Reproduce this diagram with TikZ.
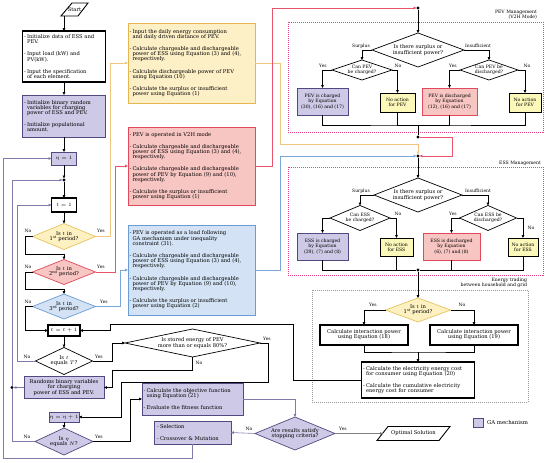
\documentclass[tikz,border=0pt]{standalone}
\usepackage{fontspec}
\setmainfont{DejaVu Serif}
\usetikzlibrary{arrows.meta,shapes.geometric,calc}
\definecolor{gaF}{HTML}{CDC9E6}
\definecolor{gaD}{HTML}{4F4B80}
\definecolor{lc}{HTML}{7F7BAA}
\definecolor{yF}{HTML}{FDEFC6}
\definecolor{yD}{HTML}{E8B650}
\definecolor{yL}{HTML}{F0C67E}
\definecolor{rF}{HTML}{F8C6C2}
\definecolor{rD}{HTML}{E04A5C}
\definecolor{rL}{HTML}{E8546C}
\definecolor{bF}{HTML}{D3E3F5}
\definecolor{bD}{HTML}{6C9CD4}
\definecolor{bL}{HTML}{7AA6DA}
\definecolor{naF}{HTML}{FBF8BA}
\definecolor{pk}{HTML}{E8408A}
\definecolor{dyF}{HTML}{FDF1C2}
\definecolor{dyD}{HTML}{E6C45C}
\newcommand{\fMain}{\fontsize{5.2pt}{5.2pt}\selectfont}
\newcommand{\fSmall}{\fontsize{4.6pt}{5.2pt}\selectfont}
\newcommand{\fLab}{\fontsize{4.5pt}{5pt}\selectfont}
\newcommand{\bdash}{\makebox[3pt][l]{-}}
\newcommand{\bind}{\hspace*{3pt}}
\tikzset{
 every node/.style={inner sep=0pt, outer sep=0pt},
 wbox/.style={draw=black, line width=1.1pt, fill=white, align=center, font=\fMain},
 gabox/.style={draw=gaD, line width=0.9pt, fill=gaF, align=center, font=\fMain},
 ybox/.style={draw=yD, line width=0.9pt, fill=yF, font=\fMain},
 rbox/.style={draw=rD, line width=0.9pt, fill=rF, font=\fMain},
 bbox/.style={draw=bD, line width=0.9pt, fill=bF, font=\fMain},
 nabox/.style={draw=black, line width=0.8pt, fill=naF, align=center, font=\fSmall},
 bul/.style={align=left, inner xsep=1.5pt},
 dia/.style={diamond, draw=black, line width=0.7pt, fill=white, inner sep=0pt},
 dt/.style={align=center, font=\fMain},
 dts/.style={align=center, font=\fSmall},
 lab/.style={font=\fLab},
 dot/.style={circle, fill=black, minimum size=3.2pt, inner sep=0pt},
 arr/.style={-{Triangle[length=2.8pt,width=2.6pt]}, line width=0.6pt},
 blk/.style={draw=pk, dash pattern=on 1pt off 1pt, line width=0.8pt},
 tblk/.style={draw=gray!80, dash pattern=on 1pt off 1pt, line width=0.8pt},
}
\begin{document}
\begin{tikzpicture}[x=1pt,y=-1pt]
\useasboundingbox (0,0) rectangle (550,463);

% ---------- blocks ----------
\node[blk, minimum width=255pt, minimum height=110pt] (pevblk) at (415.5,77) {};
\node[blk, minimum width=255pt, minimum height=108pt] (essblk) at (415.5,221) {};
\node[tblk, minimum width=216pt, minimum height=112pt] (trblk) at (420,346) {};
\node[font=\fSmall, align=right, anchor=south east] (pevlbl) at (537,19) {PEV Management\\(V2H Mode)};
\node[font=\fSmall, anchor=south east] (esslbl) at (541,166) {ESS Management};
\node[font=\fSmall, align=right, anchor=south east] (trlbl) at (527,288) {Energy trading\\between household and grid};

% ---------- left column ----------
\node[font=\fMain, minimum width=16.5pt, minimum height=13pt] (start) at (74.5,9.5) {Start};
\draw[line width=0.9pt] ($(start)+(-2.5,-6.5)$) -- ($(start)+(13.5,-6.5)$) -- ($(start)+(3.5,6.5)$) -- ($(start)+(-13.5,6.5)$) -- cycle;

\node[wbox, bul, text width=80pt, minimum height=51pt] (box1) at (64,56.5)
 {\bdash Initialize data of ESS and\\\bind PEV.\\[7pt]\bdash Input load (kW) and\\\bind PV(kW).\\[7pt]\bdash Input the specification\\\bind of each element.};
\node[gabox, bul, text width=80pt, minimum height=42pt] (box2) at (64,116)
 {\bdash Initialize binary random\\\bind variables for charging\\\bind power of ESS and PEV.\\[7pt]\bdash Initialize populational\\\bind amount.};
\node[gabox, minimum width=25pt, minimum height=13pt] (eta1) at (64,158.5) {$\eta = 1$};
\node[dot] (j1) at (64,180) {};
\node[wbox, minimum width=25pt, minimum height=14pt] (t1) at (64,205) {$t = 1$};
\node[dia, fill=dyF, draw=dyD, minimum width=63pt, minimum height=26pt] (d1) at (64,236.5) {};
\node[dt] (d1t) at (d1) {Is $t$ in\\1\textsuperscript{st} period?};
\node[dia, fill=rF, draw=rD, minimum width=63pt, minimum height=25pt] (d2) at (64,272) {};
\node[dt] (d2t) at (d2) {Is $t$ in\\2\textsuperscript{nd} period?};
\node[dia, fill=bF, draw=bD, minimum width=63pt, minimum height=25pt] (d3) at (64,306.5) {};
\node[dt] (d3t) at (d3) {Is $t$ in\\3\textsuperscript{rd} period?};
\node[wbox, minimum width=32pt, minimum height=11pt] (tp1) at (64,330.5) {$t = t + 1$};
\node[dia, minimum width=57pt, minimum height=27pt] (dT) at (64,361) {};
\node[dt] (dTt) at (dT) {Is $t$\\equals $T$?};
\node[gabox, minimum width=80pt, minimum height=22pt] (rnd) at (64,387.5) {Randoms binary variables\\for charging\\power of ESS and PEV.};
\node[dot] (j2) at (12,387.5) {};
\node[gabox, minimum width=30pt, minimum height=10pt] (etap1) at (64,417) {$\eta = \eta + 1$};
\node[dia, fill=gaF, draw=gaD, minimum width=58pt, minimum height=27pt] (dN) at (64,441.5) {};
\node[dt] (dNt) at (dN) {Is $\eta$\\equals $N$?};

% ---------- middle column ----------
\node[ybox, bul, text width=124pt, minimum height=80pt] (Y) at (191.5,63)
 {\bdash Input the daily energy consumption\\\bind and daily driven distance of PEV.\\[7pt]
  \bdash Calculate chargeable and dischargeable\\\bind power of ESS using Equation (3) and (4),\\\bind respectively.\\[7pt]
  \bdash Calculate dischargeable power of PEV\\\bind using Equation (10)\\[7pt]
  \bdash Calculate the surplus or insufficient\\\bind power using Equation (1)};
\node[rbox, bul, text width=124pt, minimum height=78pt] (R) at (191.5,166)
 {\bdash PEV is operated in V2H mode\\[7pt]
  \bdash Calculate chargeable and dischargeable\\\bind power of ESS using Equation (3) and (4),\\\bind respectively.\\[7pt]
  \bdash Calculate chargeable and dischargeable\\\bind power of PEV by Equation (9) and (10),\\\bind respectively.\\[7pt]
  \bdash Calculate the surplus or insufficient\\\bind power using Equation (1)};
\node[bbox, bul, text width=124pt, minimum height=90pt] (B) at (191.5,270)
 {\bdash PEV is operated as a load following\\\bind GA mechanism under inequality\\\bind constraint (31).\\[7pt]
  \bdash Calculate chargeable and dischargeable\\\bind power of ESS using Equation (3) and (4),\\\bind respectively.\\[7pt]
  \bdash Calculate chargeable and dischargeable\\\bind power of PEV by Equation (9) and (10),\\\bind respectively.\\[7pt]
  \bdash Calculate the surplus or insufficient\\\bind power using Equation (2)};
\node[dia, minimum width=135pt, minimum height=28pt] (dS) at (192.5,343) {};
\node[dt] (dSt) at (dS) {Is stored energy of PEV\\more than or equals 80\%?};
\node[gabox, bul, text width=98pt, minimum height=32pt] (O) at (192.5,399)
 {\bdash Calculate the objective function\\\bind using Equation (21)\\[7pt]\bdash Evaluate the fitness function};
\node[gabox, bul, text width=71pt, inner xsep=3pt, minimum height=23pt] (S) at (192.5,432.5)
 {\bdash Selection\\[7pt]\bdash Crossover \& Mutation};
\node[dia, fill=gaF, draw=gaD, minimum width=80pt, minimum height=33pt] (dC) at (295,433.5) {};
\node[dt] (dCt) at (dC) {Are results satisfy\\stopping criteria?};
\node[font=\fMain, minimum width=61pt, minimum height=14pt] (opt) at (413.5,433.5) {Optimal Solution};
\draw[line width=0.9pt] ($(opt)+(-25.5,-7)$) -- ($(opt)+(36.5,-7)$) -- ($(opt)+(25.5,7)$) -- ($(opt)+(-36.5,7)$) -- cycle;
\node[gabox, minimum width=10pt, minimum height=9pt] (leg) at (478,422.5) {};
\node[font=\fontsize{5.4pt}{6pt}\selectfont, anchor=west] (legt) at ($(leg.east)+(4,0)$) {GA mechanism};

% ---------- PEV management ----------
\node[dot] (pT) at (418,8) {};
\node[dia, minimum width=92pt, minimum height=34pt] (pd) at (418,50) {};
\node[dt] (pdt) at (pd) {Is there surplus or\\insufficient power?};
\node[dia, minimum width=60pt, minimum height=20pt] (pc) at (362,70) {};
\node[dts] (pct) at (pc) {Can PEV\\be charged?};
\node[dia, minimum width=58pt, minimum height=20pt] (pdd) at (489,70) {};
\node[dts] (pddt) at (pdd) {Can PEV be\\discharged?};
\node[gabox, font=\fSmall, minimum width=51pt, minimum height=27pt] (b1) at (322.5,101.5) {PEV is charged\\by Equation\\(30), (16) and (17)};
\node[nabox, minimum width=35pt, minimum height=19pt] (b2) at (397.5,102.5) {No action\\for PEV};
\node[rbox, align=center, font=\fSmall, minimum width=55pt, minimum height=27pt] (b3) at (449.5,101.5) {PEV is discharged\\by Equation\\(12), (16) and (17)};
\node[nabox, minimum width=32pt, minimum height=19pt] (b4) at (525,102.5) {No action\\for PEV};
\coordinate (pm) at (418,125);
\node[dot] (p1) at (418,137) {};

% ---------- ESS management ----------
\node[dot] (e0) at (418,156) {};
\node[dia, minimum width=88pt, minimum height=34pt] (ed) at (418,195) {};
\node[dt] (edt) at (ed) {Is there surplus or\\insufficient power?};
\node[dia, minimum width=60pt, minimum height=25pt] (ec) at (360,218) {};
\node[dts] (ect) at (ec) {Can ESS\\be charged?};
\node[dia, minimum width=57pt, minimum height=25pt] (edd) at (488,218) {};
\node[dts] (eddt) at (edd) {Can ESS be\\discharged?};
\node[gabox, font=\fSmall, minimum width=51pt, minimum height=27pt] (c1) at (322.5,246.5) {ESS is charged\\by Equation\\(29), (7) and (8)};
\node[nabox, minimum width=33pt, minimum height=18pt] (c2) at (396.5,247) {No action\\for ESS};
\node[rbox, align=center, font=\fSmall, minimum width=57pt, minimum height=27pt] (c3) at (451.5,246.5) {ESS is discharged\\by Equation\\(6), (7) and (8)};
\node[nabox, minimum width=30pt, minimum height=18pt] (c4) at (523,247) {No action\\for ESS};
\node[dot] (e1) at (418,270) {};

% ---------- energy trading ----------
\node[dia, fill=dyF, draw=dyD, minimum width=65pt, minimum height=24pt] (tdy) at (418,310) {};
\node[dt] (tdyt) at (tdy) {Is $t$ in\\1\textsuperscript{st} period?};
\node[wbox, minimum width=88pt, minimum height=20pt] (ti1) at (364,335) {Calculate interaction power\\using Equation (18)};
\node[wbox, minimum width=88pt, minimum height=20pt] (ti2) at (474,335) {Calculate interaction power\\using Equation (19)};
\coordinate (tm) at (418,352);
\node[wbox, bul, text width=110pt, minimum height=36pt] (cost) at (418,380)
 {\bdash Calculate the electricity energy cost\\\bind for consumer using Equation (20)\\[7pt]\bdash Calculate the cumulative electricity\\\bind energy cost for consumer};

% ---------- connectors: left column ----------
\draw[arr] (start.south -| box1.north) -- (box1.north);
\draw[arr] (box1.south) -- (box2.north);
\draw[arr] (box2.south) -- (eta1.north);
\draw[arr] (eta1.south) -- (j1.north);
\draw[arr] (j1.south) -- (t1.north);
\draw[arr] (t1.south) -- (d1.north);
\draw[arr] (d1.west) -- ++(-7,0) |- (64,254.5) -- (d2.north);
\draw[arr] (d2.west) -- ++(-7,0) |- (64,289.5) -- (d3.north);
\draw[arr] (d3.west) -- ++(-7,0) |- (tp1.west);
\draw[arr] (tp1.south) -- (dT.north);
\draw[arr, lc] (dT.west) -- ++(-18.5,0) |- (t1.west);
\draw[arr] (dT.east) -- ++(20,0) |- (dS.west);
\draw[arr] (dS.south) |- (112,370) |- (rnd.east);
\draw[arr] (dS.east) -- (268,343) |- (121,382) |- (etap1.east);
\draw[arr, lc] (rnd.west) -- (j2.east);
\draw[lc, line width=0.6pt] (dN.west) -| (j2.south);
\draw[arr, lc] (j2.north) |- (j1.west);
\draw[arr] (etap1.south) -- (dN.north);
\draw[arr] (dN.east) -- (130,441.5) |- (O.west);
\draw[arr, lc] (O.east) -| (dC.north);
\draw[arr, lc] (dC.west) -- (S.east);
\draw[arr, lc] (S.south) |- (3,458) |- (eta1.west);
\draw[arr, gray] (dC.east) -- (opt.west);

% coloured routes
\draw[arr, yL, line width=0.8pt] (d1.east) -- (110,236.5) |- (Y.west);
\draw[arr, rL, line width=0.8pt] (d2.east) -- (115,272) |- (R.west);
\draw[arr, bL, line width=0.8pt] (d3.east) -- (120,306.5) |- (B.west);
\draw[arr, yL, line width=0.8pt] (Y.east) -- (280,63) |- (418,144) -- (e0.north);
\draw[arr, rL, line width=0.8pt] (R.east) -- (272,166) |- (pT.west);
\draw[arr, bL, line width=0.8pt] (B.east) -- (280,270) |- (e0.west);
\draw[arr, rL, line width=0.8pt] (p1.east) -- (452,137) |- (e0.east);

% PEV management
\draw[arr] (pT.south) -- (pd.north);
\draw[arr] (pd.west) -| (pc.north);
\draw[arr] (pd.east) -| (pdd.north);
\draw[arr] (pc.west) -| (b1.north);
\draw[arr] (pc.east) -| (b2.north);
\draw[arr] (pdd.west) -| (b3.north);
\draw[arr] (pdd.east) -| (b4.north);
\draw[line width=0.6pt] (b1.south) |- (pm) -| (b4.south);
\draw[line width=0.6pt] (b2.south) |- (pm);
\draw[line width=0.6pt] (b3.south) |- (pm);
\draw[line width=0.6pt] (pm) -- (p1.north);

% ESS management
\draw[arr] (e0.south) -- (ed.north);
\draw[arr] (ed.west) -| (ec.north);
\draw[arr] (ed.east) -| (edd.north);
\draw[arr] (ec.west) -| (c1.north);
\draw[arr] (ec.east) -| (c2.north);
\draw[arr] (edd.west) -| (c3.north);
\draw[arr] (edd.east) -| (c4.north);
\draw[line width=0.6pt] (c1.south) |- (e1.west);
\draw[line width=0.6pt] (c4.south) |- (e1.east);
\draw[line width=0.6pt] (c2.south) |- (e1.west);
\draw[line width=0.6pt] (c3.south) |- (e1.east);

% energy trading
\draw[arr] (e1.south) -- (tdy.north);
\draw[arr] (tdy.west) -| (ti1.north);
\draw[arr] (tdy.east) -| (ti2.north);
\draw[line width=0.6pt] (ti1.south) |- (tm) -| (ti2.south);
\draw[arr] (tm) -- (cost.north);
\draw[arr] (cost.west) -- (293,380) |- (110,324) |- (tp1.east);

% ---------- labels ----------
\node[lab] (l1) at (28,231) {No};
\node[lab] (l2) at (101,231) {Yes};
\node[lab] (l3) at (28,267) {No};
\node[lab] (l4) at (101,267) {Yes};
\node[lab] (l5) at (28,302) {No};
\node[lab] (l6) at (104,302) {Yes};
\node[lab] (l7) at (27,357) {No};
\node[lab] (l8) at (99,357) {Yes};
\node[lab] (l9) at (27,437) {No};
\node[lab] (l10) at (99,437) {Yes};
\node[lab] (l11) at (199,363) {No};
\node[lab] (l12) at (267,338.5) {Yes};
\node[lab] (l13) at (249,429) {No};
\node[lab] (l14) at (343,429) {Yes};
\node[lab] (l15) at (361,46) {Surplus};
\node[lab] (l16) at (478,46) {Insufficient};
\node[lab] (l17) at (323,66) {Yes};
\node[lab] (l18) at (398,66) {No};
\node[lab] (l19) at (453,66) {Yes};
\node[lab] (l20) at (527,66) {No};
\node[lab] (l21) at (361,191) {Surplus};
\node[lab] (l22) at (478,191) {Insufficient};
\node[lab] (l23) at (398,214) {No};
\node[lab] (l24) at (453,214) {Yes};
\node[lab] (l25) at (531,228) {No};
\node[lab] (l26) at (373,305) {Yes};
\node[lab] (l27) at (462,305) {No};
\end{tikzpicture}
\end{document}
